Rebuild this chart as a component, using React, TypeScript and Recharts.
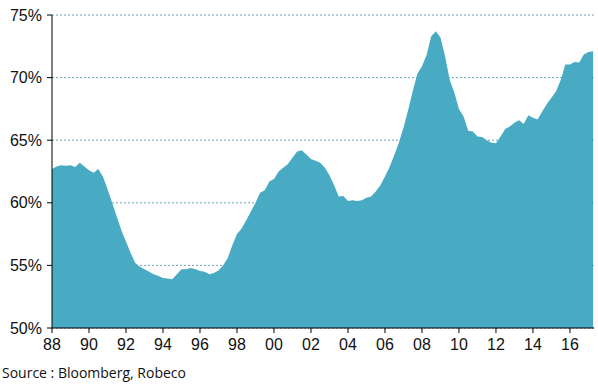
import { Area, AreaChart, CartesianGrid, XAxis, YAxis } from "recharts";

// quarterly readings, 1988Q1 .. 2017Q2
const startYear = 1988;
const shares = [
  62.7, 62.9, 63.0, 62.95, 63.0, 62.85, 63.2, 62.9,
  62.6, 62.4, 62.7, 62.1, 61.1, 60.0, 58.9, 57.8,
  56.9, 56.0, 55.2, 54.9, 54.7, 54.5, 54.3, 54.15,
  54.0, 53.95, 53.9, 54.3, 54.7, 54.7, 54.8, 54.7,
  54.55, 54.5, 54.3, 54.4, 54.6, 55.0, 55.6, 56.6,
  57.5, 57.95, 58.6, 59.3, 60.0, 60.8, 61.0, 61.7,
  61.9, 62.5, 62.8, 63.1, 63.6, 64.1, 64.2, 63.85,
  63.5, 63.35, 63.2, 62.8, 62.2, 61.4, 60.5, 60.55,
  60.15, 60.2, 60.15, 60.2, 60.4, 60.5, 60.9, 61.4,
  62.1, 62.85, 63.8, 64.8, 66.0, 67.4, 68.9, 70.3,
  70.9, 71.8, 73.3, 73.7, 73.2, 71.7, 69.8, 68.8,
  67.5, 66.9, 65.75, 65.7, 65.3, 65.25, 65.0, 64.8,
  64.75, 65.3, 65.9, 66.1, 66.4, 66.6, 66.3, 67.0,
  66.8, 66.65, 67.3, 67.9, 68.4, 68.9, 69.8, 71.05,
  71.05, 71.25, 71.2, 71.85, 72.05, 72.1,
];
const xTicks = [1988, 1990, 1992, 1994, 1996, 1998, 2000, 2002, 2004, 2006, 2008, 2010, 2012, 2014, 2016];
const yTicks = [50, 55, 60, 65, 70, 75];

const data = shares.map((v, i) => ({ t: startYear + i / 4, v }));

export default function App() {
  return (
    <div style={{ position: "absolute", left: 0, top: 0, width: 598, height: 385, background: "#fff" }}>
      <AreaChart width={598} height={385} data={data} margin={{ top: 15, right: 4, bottom: 27, left: 0 }}>
        <CartesianGrid vertical={false} stroke="#3d8fa8" strokeDasharray="2 2" strokeWidth={0.8} />
        <XAxis
          dataKey="t"
          type="number"
          domain={[1988, 2017.3]}
          ticks={xTicks}
          tickFormatter={(y: number) => String(y % 100).padStart(2, "0")}
          stroke="#000"
          tickSize={5}
          tickMargin={6}
          height={30}
          tick={{ fill: "#111", fontSize: 16, fontFamily: "Liberation Sans, Arial" }}
          interval={0}
        />
        <YAxis
          domain={[50, 75]}
          ticks={yTicks}
          tickFormatter={(v: number) => `${v}%`}
          stroke="#000"
          tickSize={5}
          tickMargin={5}
          width={52}
          tick={{ fill: "#111", fontSize: 16, fontFamily: "Liberation Sans, Arial" }}
          interval={0}
        />
        <Area
          type="linear"
          dataKey="v"
          stroke="none"
          fill="#49aac4"
          fillOpacity={1}
          isAnimationActive={false}
        />
      </AreaChart>
      <div
        style={{
          position: "absolute",
          left: 2,
          top: 363,
          fontFamily: "Open Sans, sans-serif",
          fontSize: 14,
          color: "#111",
          whiteSpace: "nowrap",
        }}
      >
        Source : Bloomberg, Robeco
      </div>
    </div>
  );
}
